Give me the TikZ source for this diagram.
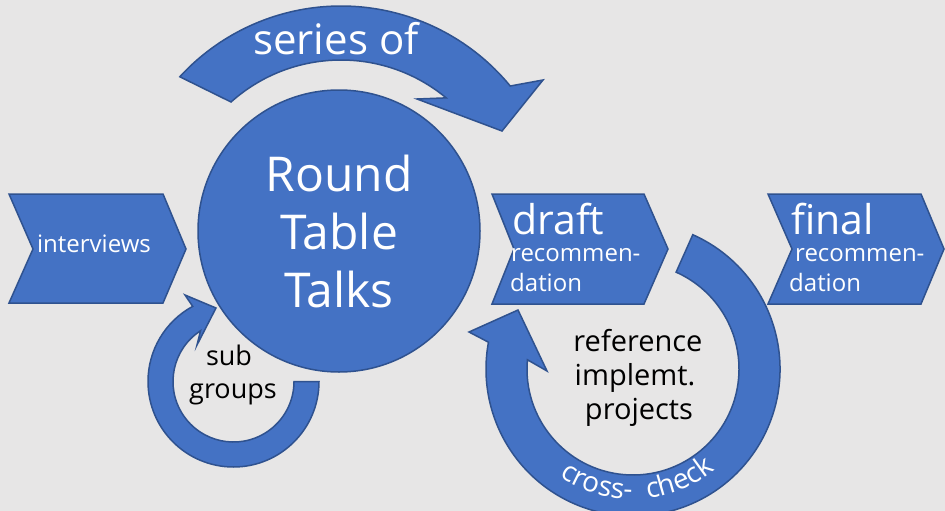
\documentclass[tikz,border=0pt]{standalone}
\usepackage{fontspec}
\setmainfont{Open Sans}
\usetikzlibrary{calc,decorations.text}
\definecolor{bg}{HTML}{E7E6E6}
\definecolor{blu}{HTML}{4472C4}
\definecolor{bord}{HTML}{2F528F}
\newcommand\setfs[1]{\fontsize{#1}{#1}\selectfont}
\newcommand\ccfont{\fontsize{28}{28}\selectfont}
\begin{document}
\begin{tikzpicture}[x=1pt,y=1pt,
  blueshape/.style={fill=blu, draw=bord, line width=1.5pt, line join=miter},
  wtxt/.style={text=white, inner sep=0pt},
  btxt/.style={text=black, inner sep=0pt}]
\path[fill=bg] (0,0) rectangle (945,-511);
\useasboundingbox (0,0) rectangle (945,-511);

% top curved arrow "series of"
\coordinate (tc) at (341,-225);
\draw[blueshape] ($(tc)+(137.4:219pt)$) arc[start angle=137.4, end angle=39.4, radius=219pt]
  -- (543,-80) -- (502,-131) -- (417,-99)
  -- ($(tc)+(50.4:165pt)$) arc[start angle=50.4, end angle=131.8, radius=165pt] -- cycle;
\node[wtxt, anchor=base, font=\setfs{42}] (series) at (336,-55) {series of};

% sub groups circular arrow
\coordinate (sc) at (233.5,-381.5);
\draw[blueshape] ($(sc)+(0:85.5pt)$) arc[start angle=0, end angle=-241.5, radius=85.5pt]
  -- (185,-295) -- (216,-308) -- (197,-345)
  -- ($(sc)+(123:60.5pt)$) arc[start angle=-237, end angle=0, radius=60.5pt] -- cycle;
\node[btxt, anchor=base, font=\setfs{27}] (sub) at (229,-365) {sub};
\node[btxt, anchor=base, font=\setfs{27}] (groups) at (233,-398) {groups};

% cross-check circular arrow
\coordinate (cc) at (633,-369);
\draw[blueshape] ($(cc)+(66:147pt)$) arc[start angle=66, end angle=-190.5, radius=147pt]
  -- (469,-332) -- (518,-310) -- (547,-371)
  -- ($(cc)+(175:106pt)$) arc[start angle=-185, end angle=66, radius=106pt] -- cycle;
\path[decorate, decoration={text along path, text={|\ccfont|cross-}, text color=white, text align=left}]
  ($(cc)+(-124.5:130pt)$) arc[start angle=-124.5, end angle=-84, radius=130pt];
\path[decorate, decoration={text along path, text={|\ccfont|check}, text color=white, text align=left}]
  ($(cc)+(-83.5:130pt)$) arc[start angle=-83.5, end angle=-38, radius=130pt];
\node[btxt, anchor=base, font=\setfs{29}] (ref1) at (638,-351) {reference};
\node[btxt, anchor=base, font=\setfs{29}] (ref2) at (635,-385) {implemt.};
\node[btxt, anchor=base, font=\setfs{29}] (ref3) at (639,-419) {projects};

% central circle
\node[blueshape, circle, minimum size=282pt, inner sep=0pt, text=white, align=center,
  font=\fontsize{48}{58}\selectfont] (rtt) at (339,-231) {Round\\Table\\Talks};

% chevrons
\draw[blueshape] (9,-194) -- (163,-194) -- (186,-249) -- (163,-303) -- (9,-303) -- (33,-249) -- cycle;
\node[wtxt, anchor=base, font=\setfs{24}] (interviews) at (94,-252) {interviews};

\draw[blueshape] (492,-194) -- (644,-194) -- (668,-249) -- (644,-304) -- (492,-304) -- (514,-249) -- cycle;
\node[wtxt, anchor=base west, font=\setfs{41}] (draft) at (512,-234) {draft};
\node[wtxt, anchor=base west, font=\setfs{24}] (rec1) at (511,-261) {recommen-};
\node[wtxt, anchor=base west, font=\setfs{24}] (dat1) at (510,-291) {dation};

\draw[blueshape] (768,-194) -- (921,-194) -- (944,-249) -- (921,-304) -- (768,-304) -- (792,-249) -- cycle;
\node[wtxt, anchor=base west, font=\setfs{41}] (final) at (791,-234) {final};
\node[wtxt, anchor=base west, font=\setfs{24}] (rec2) at (795,-261) {recommen-};
\node[wtxt, anchor=base west, font=\setfs{24}] (dat2) at (789,-291) {dation};
\end{tikzpicture}
\end{document}
